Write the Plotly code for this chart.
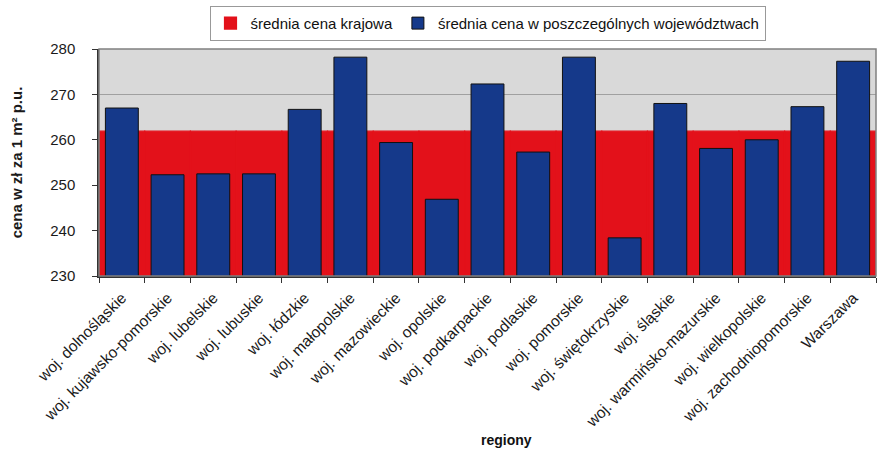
import plotly.graph_objects as go

categories = [
    "woj. dolnośląskie", "woj. kujawsko-pomorskie", "woj. lubelskie", "woj. lubuskie",
    "woj. łódzkie", "woj. małopolskie", "woj. mazowieckie", "woj. opolskie",
    "woj. podkarpackie", "woj. podlaskie", "woj. pomorskie", "woj. świętokrzyskie",
    "woj. śląskie", "woj. warmińsko-mazurskie", "woj. wielkopolskie",
    "woj. zachodniopomorskie", "Warszawa",
]
regional_price = [267.0, 252.3, 252.5, 252.5, 266.7, 278.2, 259.4, 246.9,
                  272.3, 257.3, 278.2, 238.4, 268.0, 258.1, 260.0, 267.3, 277.3]
national_price = 261.9
national_series = [national_price] * len(categories)
y_ticks = [230, 240, 250, 260, 270, 280]

font_family = "Liberation Sans, Arial, sans-serif"

fig = go.Figure()
fig.add_trace(go.Bar(
    x=categories, y=national_series, base=0, width=1.0,
    name="średnia cena krajowa",
    marker=dict(color="#e3111a", line=dict(color="#e3111a", width=1.2)),
    hoverinfo="skip",
))
fig.add_trace(go.Bar(
    x=categories, y=regional_price, width=0.72,
    name="średnia cena w poszczególnych województwach",
    marker=dict(color="#15398a", line=dict(color="#111111", width=1)),
))

fig.update_layout(
    width=880, height=449,
    margin=dict(l=99, r=4, t=49, b=173),
    barmode="overlay",
    paper_bgcolor="white",
    plot_bgcolor="#d9d9d9",
    font=dict(family=font_family, size=15, color="#1a1a1a"),
    showlegend=True,
    legend=dict(
        orientation="h", x=0.5, xanchor="center", y=1.19, yanchor="top",
        bgcolor="white", bordercolor="#999999", borderwidth=1,
        font=dict(size=15, family=font_family, color="#111111"),
        traceorder="normal", tracegroupgap=0,
    ),
    xaxis=dict(
        type="category", tickangle=-45, tickson="boundaries",
        ticks="outside", ticklen=5, tickcolor="#333333",
        showline=True, linecolor="#333333", linewidth=1.5,
        mirror=False, showgrid=False,
        tickfont=dict(size=15.5, family=font_family, color="#1a1a1a"),
        ticklabelstandoff=5,
        range=[-0.5, len(categories) - 0.5],
    ),
    yaxis=dict(
        range=[230, 280], tickvals=y_ticks, ticks="outside", ticklen=5,
        tickcolor="#333333", showline=True, linecolor="#333333", linewidth=1.5,
        showgrid=True, gridcolor="#a0a0a0", gridwidth=1,
        tickfont=dict(size=15, family=font_family, color="#1a1a1a"),
        ticklabelstandoff=14,
        title=dict(text="<b>cena w zł za 1 m² p.u.</b>", font=dict(size=15, family=font_family), standoff=24),
        zeroline=False,
    ),
    annotations=[dict(
        text="<b>regiony</b>", xref="paper", yref="paper", x=0.524, y=-0.722,
        xanchor="center", yanchor="middle", showarrow=False,
        font=dict(size=14, family=font_family, color="#111111"),
    )],
)
fig.add_shape(type="rect", xref="paper", yref="paper", x0=0, y0=0, x1=1, y1=1,
              line=dict(color="#808080", width=1.5), fillcolor="rgba(0,0,0,0)", layer="above")

fig.write_html("out.html")
